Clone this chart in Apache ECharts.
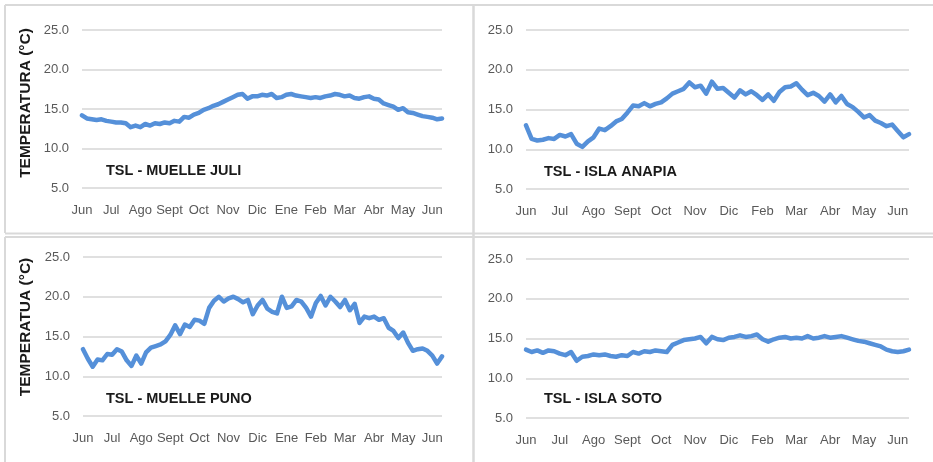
<!DOCTYPE html>
<html>
<head>
<meta charset="utf-8">
<script src="https://cdn.jsdelivr.net/npm/echarts@6/dist/echarts.min.js"></script>
<style>
html,body{margin:0;padding:0;background:#fff;}
#chart{width:933px;height:462px;}
</style>
</head>
<body>
<div id="chart"></div>
<script>
// Month tick labels (one label every 6 samples)
const monthsA = ['Jun','Jul','Ago','Sept','Oct','Nov','Dic','Ene','Feb','Mar','Abr','May','Jun'];
const monthsB = ['Jun','Jul','Ago','Sept','Oct','Nov','Dic','Feb','Mar','Abr','May','Jun'];
const samplesPerMonth = 6;

const titles = ['TSL - MUELLE JULI','TSL - ISLA ANAPIA','TSL - MUELLE PUNO','TSL - ISLA SOTO'];
const yNames = ['TEMPERATURA (°C)','TEMPERATUA (°C)'];

// Temperature series (°C)
const juli = [14.2,13.8,13.7,13.6,13.7,13.5,13.4,13.3,13.3,13.2,12.7,12.9,12.7,13.1,12.9,13.2,13.1,13.3,13.2,13.5,13.4,14.0,13.9,14.3,14.5,14.9,15.1,15.4,15.6,15.9,16.2,16.5,16.8,16.9,16.3,16.6,16.6,16.8,16.7,16.9,16.4,16.5,16.8,16.9,16.7,16.6,16.5,16.4,16.5,16.4,16.6,16.7,16.9,16.8,16.6,16.7,16.4,16.3,16.5,16.6,16.3,16.2,15.7,15.5,15.3,14.9,15.1,14.6,14.5,14.3,14.1,14.0,13.9,13.7,13.8];
const anapia = [13.0,11.3,11.1,11.2,11.4,11.3,11.8,11.6,11.9,10.7,10.3,11.0,11.5,12.6,12.4,12.9,13.5,13.8,14.6,15.5,15.4,15.8,15.4,15.7,15.9,16.4,17.0,17.3,17.6,18.4,17.8,18.0,17.0,18.5,17.6,17.7,17.1,16.5,17.4,16.9,17.3,16.8,16.2,16.9,16.1,17.2,17.8,17.9,18.3,17.5,16.8,17.1,16.7,16.0,16.9,15.9,16.7,15.7,15.3,14.7,14.0,14.3,13.6,13.3,12.9,13.1,12.3,11.5,11.9];
const puno = [13.4,12.2,11.2,12.1,12.0,12.8,12.7,13.4,13.1,12.0,11.3,12.6,11.6,13.0,13.6,13.8,14.0,14.4,15.2,16.4,15.3,16.5,16.2,17.1,17.0,16.6,18.6,19.5,20.0,19.4,19.8,20.0,19.7,19.3,19.6,17.8,18.9,19.6,18.5,18.1,17.9,20.0,18.6,18.8,19.6,19.4,18.6,17.5,19.2,20.1,18.9,20.0,19.4,18.7,19.6,18.3,19.1,16.7,17.5,17.3,17.5,17.1,17.3,16.1,15.7,14.8,15.5,14.2,13.2,13.4,13.5,13.2,12.6,11.6,12.5];
const soto = [13.6,13.3,13.5,13.2,13.5,13.4,13.1,12.9,13.3,12.2,12.7,12.8,13.0,12.9,13.0,12.8,12.7,12.9,12.8,13.3,13.1,13.4,13.3,13.5,13.4,13.3,14.2,14.5,14.8,14.9,15.0,15.2,14.4,15.2,14.9,14.8,15.1,15.2,15.4,15.2,15.3,15.5,14.9,14.6,14.9,15.1,15.2,15.0,15.1,15.0,15.3,15.0,15.1,15.3,15.1,15.2,15.3,15.1,14.9,14.7,14.6,14.4,14.2,14.0,13.6,13.4,13.3,13.4,13.6];

const panels = [
  {data: juli,   months: monthsA, grid: {left: 82,  top: 30,  width: 360, height: 158}, title: [106, 163]},
  {data: anapia, months: monthsB, grid: {left: 526, top: 30,  width: 383, height: 159}, title: [544, 164]},
  {data: puno,   months: monthsA, grid: {left: 83,  top: 257, width: 359, height: 159}, title: [106, 391]},
  {data: soto,   months: monthsB, grid: {left: 526, top: 259, width: 383, height: 159}, title: [544, 391]}
];

const FONT = "'Liberation Sans', Arial, sans-serif";
const LINE = '#5590d9';
const GRIDC = '#d6d6d6';
const BORDER = '#d9d9d9';

const option = {
  animation: false,
  backgroundColor: '#ffffff',
  title: panels.map((p, i) => ({
    text: titles[i], left: p.title[0], top: p.title[1], padding: 0,
    textStyle: {fontFamily: FONT, fontWeight: 'bold', fontSize: 14.5, color: '#1a1a1a'}
  })),
  grid: panels.map(p => Object.assign({containLabel: false}, p.grid)),
  xAxis: panels.map((p, i) => ({
    type: 'category', gridIndex: i, boundaryGap: false,
    data: p.data.map((_, k) => String(k)),
    axisLine: {show: false}, axisTick: {show: false}, splitLine: {show: false},
    axisLabel: {
      interval: (idx) => idx % samplesPerMonth === 0,
      formatter: (v, idx) => p.months[Math.round(Number(v) / samplesPerMonth)] || '',
      color: '#595959', fontSize: 13, fontFamily: FONT, margin: 16
    }
  })),
  yAxis: panels.map((p, i) => ({
    type: 'value', gridIndex: i, min: 5, max: 25, interval: 5,
    axisLine: {show: false}, axisTick: {show: false},
    splitLine: {show: true, lineStyle: {color: GRIDC, width: 1.5}},
    axisLabel: {formatter: v => v.toFixed(1), color: '#595959', fontSize: 13, fontFamily: FONT, margin: 13}
  })),
  series: panels.map((p, i) => ({
    type: 'line', xAxisIndex: i, yAxisIndex: i, data: p.data,
    symbol: 'none', showSymbol: false, smooth: false,
    lineStyle: {color: LINE, width: 4.5, join: 'round', cap: 'round'}
  })),
  graphic: [
    {type: 'line', shape: {x1: 5, y1: 5, x2: 933, y2: 5}, style: {stroke: BORDER, lineWidth: 2}},
    {type: 'line', shape: {x1: 5, y1: 5, x2: 5, y2: 233}, style: {stroke: BORDER, lineWidth: 2}},
    {type: 'line', shape: {x1: 5, y1: 233.5, x2: 933, y2: 233.5}, style: {stroke: BORDER, lineWidth: 2}},
    {type: 'line', shape: {x1: 5, y1: 237, x2: 933, y2: 237}, style: {stroke: BORDER, lineWidth: 2}},
    {type: 'line', shape: {x1: 5, y1: 237, x2: 5, y2: 462}, style: {stroke: BORDER, lineWidth: 2}},
    {type: 'line', shape: {x1: 473.5, y1: 5, x2: 473.5, y2: 462}, style: {stroke: BORDER, lineWidth: 2.5}},
    {type: 'text', x: 26, y: 103, rotation: Math.PI / 2,
     style: {text: yNames[0], font: 'bold 15.5px ' + FONT, fill: '#1a1a1a', textAlign: 'center', textVerticalAlign: 'middle'}},
    {type: 'text', x: 26, y: 327, rotation: Math.PI / 2,
     style: {text: yNames[1], font: 'bold 15.5px ' + FONT, fill: '#1a1a1a', textAlign: 'center', textVerticalAlign: 'middle'}}
  ]
};

const chart = echarts.init(document.getElementById('chart'), null, {renderer: 'canvas'});
chart.setOption(option);
</script>
</body>
</html>
